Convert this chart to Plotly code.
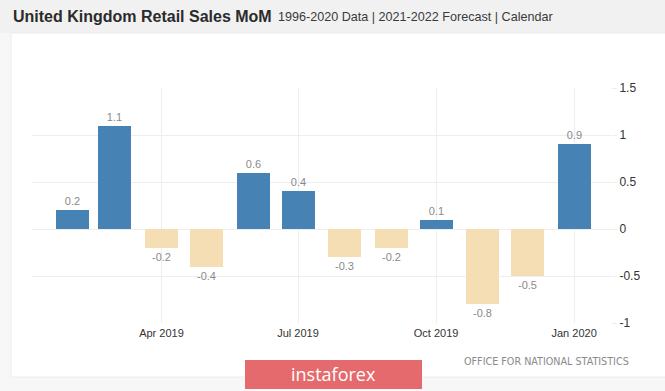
import plotly.graph_objects as go

months = ["2019-02-01", "2019-03-01", "2019-04-01", "2019-05-01", "2019-06-01", "2019-07-01",
          "2019-08-01", "2019-09-01", "2019-10-01", "2019-11-01", "2019-12-01", "2020-01-01"]
values = [0.2, 1.1, -0.2, -0.4, 0.6, 0.4, -0.3, -0.2, 0.1, -0.8, -0.5, 0.9]
y_ticks = [-1, -0.5, 0, 0.5, 1, 1.5]
y_tick_labels = ["-1", "-0.5", "0", "0.5", "1", "1.5"]

W, H = 665, 391
L, R, T, B = 32, 54, 88, 68
PW, PH = W - L - R, H - T - B

def px(x):
    return (x - L) / PW

def py(y):
    return (H - B - y) / PH

colors = ["#4682b4" if v >= 0 else "#f5deb3" for v in values]
texts = [("%g" % v) for v in values]

fig = go.Figure()
fig.add_trace(go.Bar(
    x=months, y=values, width=22 * 86400000,
    marker=dict(color=colors, line=dict(width=0)),
    text=texts, textposition="outside", cliponaxis=False,
    textfont=dict(family="Liberation Sans, Arial", size=11, color="#8a8a8a"),
    hoverinfo="x+y",
))

shapes = [
    dict(type="rect", xref="paper", yref="paper", x0=px(-5), x1=px(W + 5), y0=py(-5), y1=py(H + 5),
         fillcolor="#f7f7f7", line=dict(width=0), layer="below"),
    dict(type="rect", xref="paper", yref="paper", x0=px(-5), x1=px(W + 5), y0=py(-5), y1=py(33),
         fillcolor="#f1f1f1", line=dict(width=0), layer="below"),
    dict(type="rect", xref="paper", yref="paper", x0=px(11), x1=px(W + 5), y0=py(33), y1=py(377),
         fillcolor="#ffffff", line=dict(width=1, color="#ececec"), layer="below"),
    dict(type="rect", xref="paper", yref="paper", x0=px(245), x1=px(422), y0=py(360), y1=py(389),
         fillcolor="#e56a6d", line=dict(width=0), layer="above"),
]

annotations = [
    dict(text="<b>United Kingdom Retail Sales MoM</b>", xref="paper", yref="paper",
         x=px(11), y=py(17), xanchor="left", yanchor="middle", showarrow=False,
         font=dict(family="Liberation Sans, Arial", size=16, color="#2b2b2b")),
    dict(text="1996-2020 Data | 2021-2022 Forecast | Calendar", xref="paper", yref="paper",
         x=px(276), y=py(17), xanchor="left", yanchor="middle", showarrow=False,
         font=dict(family="Liberation Sans, Arial", size=12.6, color="#3a3a3a")),
    dict(text="OFFICE FOR NATIONAL STATISTICS", xref="paper", yref="paper",
         x=px(631), y=py(361), xanchor="right", yanchor="middle", showarrow=False,
         font=dict(family="DejaVu Sans Condensed, DejaVu Sans", size=10.7, color="#8a8a8a")),
    dict(text="instaforex", xref="paper", yref="paper",
         x=px(333), y=py(374), xanchor="center", yanchor="middle", showarrow=False,
         font=dict(family="Open Sans", size=18, color="#ffffff")),
]

fig.update_layout(
    width=W, height=H, margin=dict(l=L, r=R, t=T, b=B),
    paper_bgcolor="#f7f7f7", plot_bgcolor="#ffffff",
    showlegend=False, shapes=shapes, annotations=annotations,
    bargap=0,
)
fig.update_xaxes(
    type="date", range=["2019-01-04 17:00", "2020-01-25 14:00"],
    tick0="2019-01-01", dtick="M3", tickformat="%b %Y",
    showgrid=True, gridcolor="#eeeeee", gridwidth=1,
    showline=False, zeroline=False, ticks="", ticklabelstandoff=2,
    tickfont=dict(family="Liberation Sans, Arial", size=11, color="#333333"),
    fixedrange=True,
)
fig.update_yaxes(
    side="right", range=[-1, 1.5], tickvals=y_ticks, ticktext=y_tick_labels,
    showgrid=True, gridcolor="#eeeeee", gridwidth=1,
    zeroline=True, zerolinecolor="#eeeeee", zerolinewidth=1,
    ticks="outside", ticklen=5, tickcolor="#eeeeee",
    tickfont=dict(family="Liberation Sans, Arial", size=12, color="#333333"),
    showline=False, fixedrange=True,
)

fig.write_html("out.html", config={"displayModeBar": False},
               post_script="document.body.style.margin='0';document.body.style.overflow='hidden';")
